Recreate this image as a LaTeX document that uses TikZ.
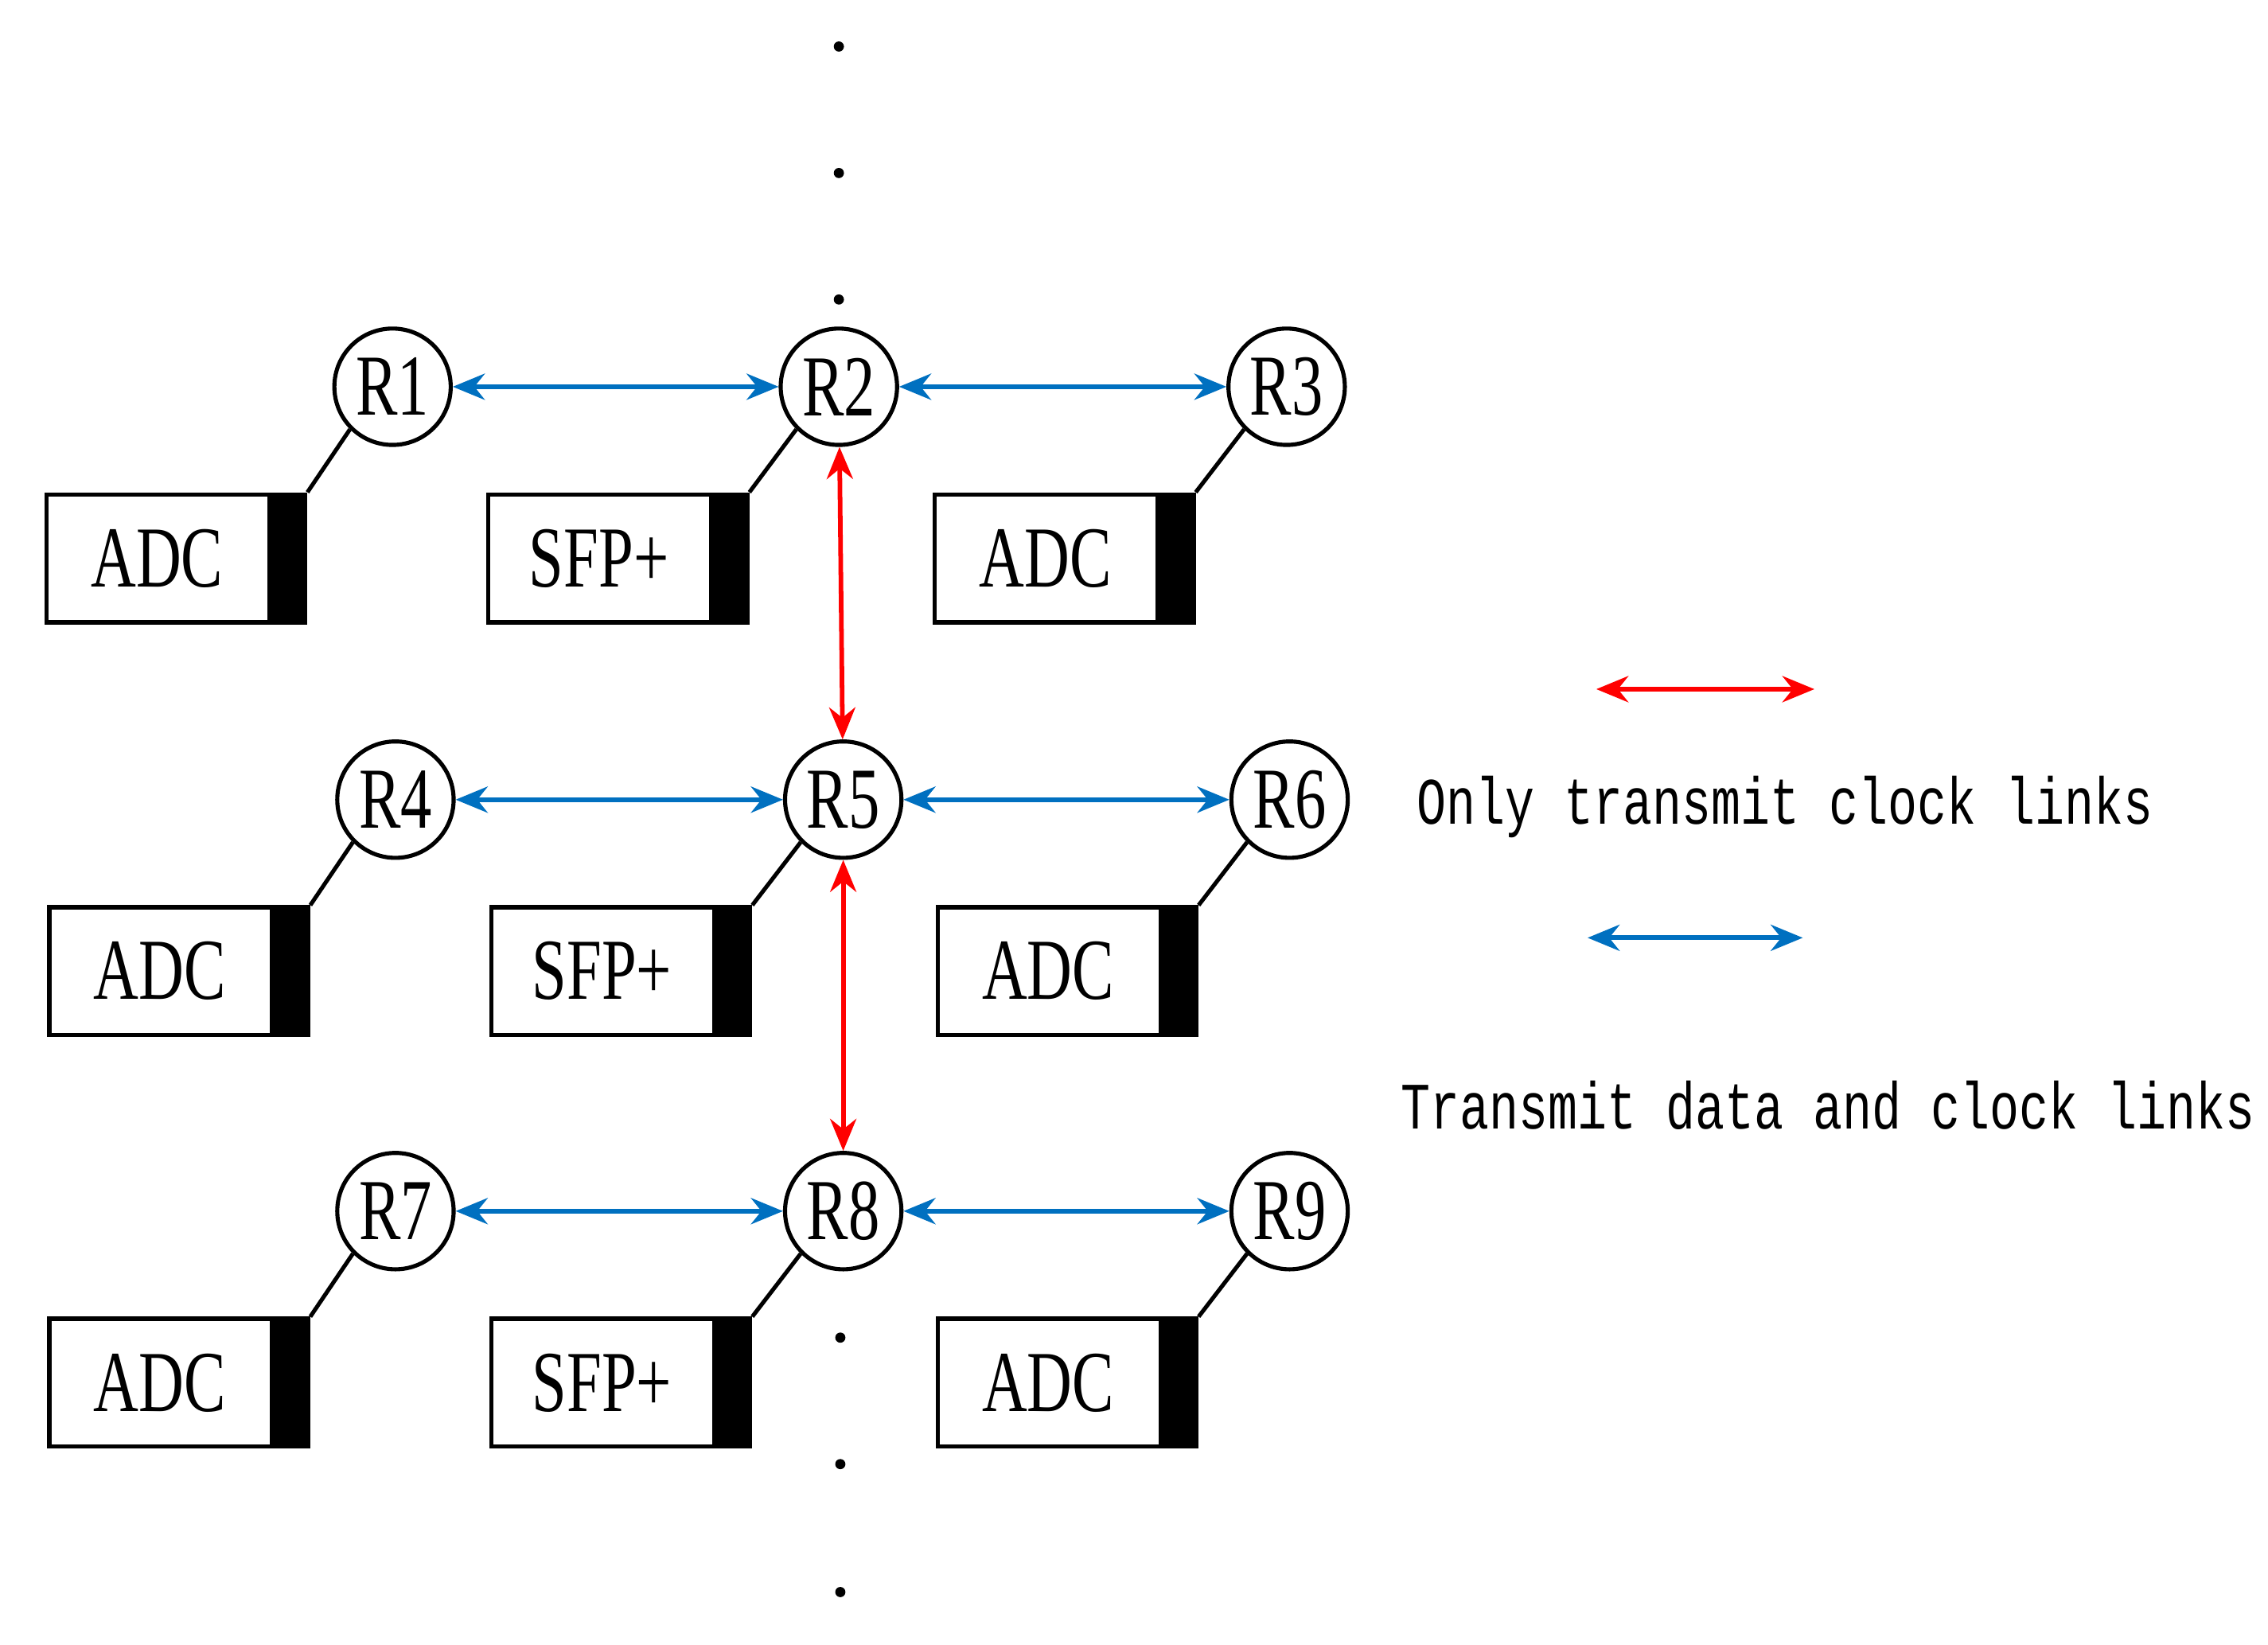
\documentclass[tikz,border=0pt]{standalone}
\usepackage{fontspec}
\setmainfont{Liberation Serif}
\newfontfamily\monof{Liberation Mono}
\usetikzlibrary{arrows.meta}
\begin{document}
\begin{tikzpicture}[x=0.01cm,y=-0.01cm,
  rn/.style={circle,draw,line width=0.8pt,minimum size=0.8cm,inner sep=0pt,font=\fontsize{17}{17}\selectfont},
  box/.style={draw,line width=0.8pt,minimum width=1.78cm,minimum height=0.88cm,inner sep=0pt},
  bar/.style={fill=black,minimum width=0.27cm,minimum height=0.88cm,inner sep=0pt},
  lnk/.style={line width=0.8pt},
  blu/.style={draw={rgb,255:red,0;green,112;blue,192},line width=0.9pt,{Stealth[length=0.22cm,width=0.18cm]}-{Stealth[length=0.22cm,width=0.18cm]}},
  red/.style={draw=red,line width=0.9pt,{Stealth[length=0.22cm,width=0.18cm]}-{Stealth[length=0.22cm,width=0.18cm]}},
  dot/.style={circle,fill=black,inner sep=0pt,minimum size=0.07cm},
  lbl/.style={font=\fontsize{17}{17}\selectfont}]
\useasboundingbox (0,0) rectangle (1560,1131);
\newcommand{\cond}[1]{\scalebox{0.72}[1]{#1}}
% routers
\node[rn] (R1) at (270,266) {\cond{R1}};
\node[rn] (R2) at (577,266) {\cond{R2}};
\node[rn] (R3) at (885,266) {\cond{R3}};
\node[rn] (R4) at (272,550) {\cond{R4}};
\node[rn] (R5) at (580,550) {\cond{R5}};
\node[rn] (R6) at (887,550) {\cond{R6}};
\node[rn] (R7) at (272,833) {\cond{R7}};
\node[rn] (R8) at (580,833) {\cond{R8}};
\node[rn] (R9) at (887,833) {\cond{R9}};
% boxes
\foreach \n/\x/\y/\t in {B1/121/384/ADC,B2/425/384/SFP+,B3/732/384/ADC,
  B4/123/668/ADC,B5/427/668/SFP+,B6/734/668/ADC,
  B7/123/951/ADC,B8/427/951/SFP+,B9/734/951/ADC}{
  \node[box] (\n) at (\x,\y) {};
  \node[bar,anchor=east] (\n k) at (\n.east) {};
  \node[lbl] (\n t) at ([xshift=-0.13cm]\n.center) {\cond{\t}};
}
\foreach \r/\b in {R1/B1,R2/B2,R3/B3,R4/B4,R5/B5,R6/B6,R7/B7,R8/B8,R9/B9}
  \draw[lnk] (\r.225) -- (\b.north east);
% links
\draw[blu] (R1) -- (R2);
\draw[blu] (R2) -- (R3);
\draw[blu] (R4) -- (R5);
\draw[blu] (R5) -- (R6);
\draw[blu] (R7) -- (R8);
\draw[blu] (R8) -- (R9);
\draw[red] (R2) -- (R5);
\draw[red] (R5) -- (R8);
% dots
\foreach \n/\x/\y in {d1/577/32,d2/577/119,d3/577/206,d4/578/920,d5/578/1007,d6/578/1095}
  \node[dot] (\n) at (\x,\y) {};
% legend
\coordinate (la) at (1098,474); \coordinate (lb) at (1248,474);
\draw[red] (la) -- (lb);
\node[anchor=west,font=\monof\fontsize{9.6}{10}\selectfont] (lt1) at (962,555) {\scalebox{1}[1.35]{Only transmit clock links}};
\coordinate (lc) at (1092,645); \coordinate (ld) at (1240,645);
\draw[blu] (lc) -- (ld);
\node[anchor=west,font=\monof\fontsize{9.6}{10}\selectfont] (lt2) at (951,760) {\scalebox{1}[1.35]{Transmit data and clock links}};
\end{tikzpicture}
\end{document}
